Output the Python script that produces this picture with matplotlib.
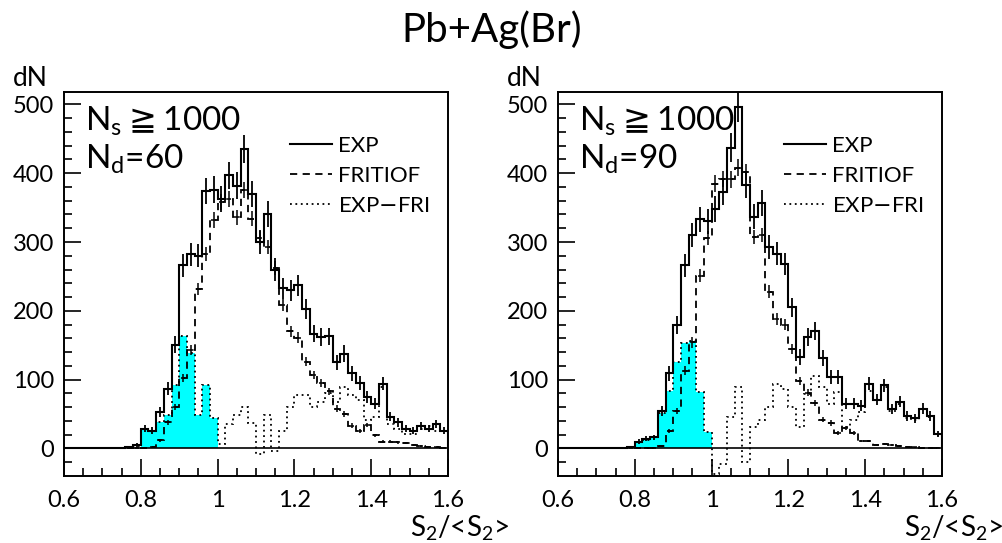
import numpy as np
import matplotlib.pyplot as plt

plt.rcParams['font.family'] = ['Lato', 'DejaVu Sans']
plt.rcParams['mathtext.fontset'] = 'dejavusans'

# bins of S2/<S2>, width 0.02 from 0.6 to 1.6
EDGES = np.round(np.linspace(0.6, 1.6, 51), 2)

EXP_60 = [0, 0, 0, 0, 0, 0, 0, 1, 2, 5,
          29, 26, 53, 87, 151, 266, 282, 280, 374, 376,
          363, 397, 382, 435, 370, 300, 341, 260, 233, 230,
          237, 203, 167, 162, 163, 125, 138, 109, 95, 75,
          65, 94, 46, 38, 29, 26, 33, 29, 36, 26]
FRI_60 = [0, 0, 0, 0, 0, 0, 0, 0, 1, 1,
          1, 2, 12, 38, 60, 102, 143, 232, 283, 332,
          358, 362, 336, 375, 334, 306, 293, 262, 208, 170,
          161, 126, 107, 95, 83, 58, 50, 33, 25, 34,
          19, 10, 10, 9, 8, 5, 4, 2, 2, 1]
DIFF_60 = [0, 0, 0, 0, 0, 0, 0, 1, 1, 4,
           29, 26, 38, 48, 92, 164, 139, 48, 92, 44,
           7, 36, 48, 60, 37, -8, 48, -3, 26, 60,
           77, 77, 60, 67, 80, 67, 89, 77, 70, 41,
           46, 89, 36, 29, 21, 21, 29, 33, 26, 26]

EXP_90 = [0, 0, 0, 0, 0, 0, 0, 0, 1, 2,
          10, 14, 16, 55, 109, 179, 266, 310, 333, 330,
          348, 373, 437, 496, 383, 337, 356, 293, 283, 268,
          205, 133, 162, 171, 131, 104, 104, 65, 65, 62,
          94, 71, 92, 57, 68, 47, 44, 58, 47, 21]
FRI_90 = [0, 0, 0, 0, 0, 0, 0, 0, 0, 0,
          0, 1, 1, 3, 25, 54, 113, 154, 251, 306,
          385, 392, 391, 408, 402, 307, 310, 228, 188, 180,
          145, 98, 81, 66, 42, 37, 23, 30, 22, 11,
          11, 5, 7, 5, 4, 2, 2, 1, 1, 1]
DIFF_90 = [0, 0, 0, 0, 0, 0, 0, 0, 1, 2,
           10, 13, 16, 52, 84, 125, 153, 156, 82, 24,
           -37, -22, 46, 89, -20, 31, 41, 60, 94, 87,
           60, 31, 79, 106, 89, 65, 82, 31, 41, 53,
           84, 70, 89, 55, 65, 45, 42, 57, 46, 20]

PANELS = [("60", EXP_60, FRI_60, DIFF_60), ("90", EXP_90, FRI_90, DIFF_90)]

fig = plt.figure(figsize=(10.03, 5.43), dpi=100)
fig.text(492 / 1003, 1 - 30 / 543, 'Pb+Ag(Br)', ha='center', va='center',
         fontsize=29, color='k')

lefts = [64 / 1003, 558 / 1003]
centers = (EDGES[:-1] + EDGES[1:]) / 2
fill = (centers > 0.8) & (centers < 1.0)

for left, (nd, exp, fri, diff) in zip(lefts, PANELS):
    ax = fig.add_axes([left, 67 / 543, 384 / 1003, 384 / 543])
    exp = np.array(exp, float)
    fri = np.array(fri, float)
    diff = np.array(diff, float)

    # cyan region under EXP-FRI between 0.8 and 1
    ax.stairs(diff[fill], EDGES[10:21], fill=True, color='#00ffff', lw=0)
    ax.axhline(0, color='k', lw=1.2)

    ax.stairs(exp, EDGES, color='k', lw=1.5, label='EXP')
    ax.stairs(fri, EDGES, color='k', lw=1.3, ls=(0, (4, 3)), label='FRITIOF')
    ax.stairs(diff, EDGES, color='k', lw=1.3, ls=(0, (1, 2)), label='EXP$-$FRI')

    ax.errorbar(centers, exp, yerr=np.sqrt(exp), fmt='none', ecolor='k', elinewidth=1.3)
    ax.errorbar(centers, fri, yerr=0.6 * np.sqrt(fri), xerr=0.006, fmt='none',
                ecolor='k', elinewidth=1.1)

    ax.set_xlim(0.6, 1.6)
    ax.set_ylim(-40, 518)
    ax.set_xticks([0.6, 0.8, 1.0, 1.2, 1.4, 1.6])
    ax.set_xticklabels(['0.6', '0.8', '1', '1.2', '1.4', '1.6'])
    ax.set_xticks(np.arange(0.6, 1.601, 0.05), minor=True)
    ax.set_yticks([0, 100, 200, 300, 400, 500])
    ax.set_yticks(np.arange(-20, 518, 20), minor=True)
    ax.tick_params(direction='in', length=12, width=1.2, labelsize=17, top=False, right=False)
    ax.tick_params(axis='y', pad=7)
    ax.tick_params(axis='x', pad=10)
    ax.tick_params(which='minor', direction='in', length=6, width=1.2)
    for s in ax.spines.values():
        s.set_linewidth(1.4)

    ax.text(-0.088, 1.036, 'dN', transform=ax.transAxes, ha='center', va='center', fontsize=19)
    ax.set_xlabel(r'S$_\mathregular{2}$/<S$_\mathregular{2}$>', fontsize=20)
    ax.xaxis.set_label_coords(1.16, -0.135)
    ax.xaxis.label.set_ha('right')
    ax.xaxis.label.set_va('center')

    ax.text(0.055, 0.925, r'N$_\mathregular{s}$$\geqq$1000', transform=ax.transAxes,
            ha='left', va='center', fontsize=24)
    ax.text(0.055, 0.825, r'N$_\mathregular{d}$=' + nd, transform=ax.transAxes,
            ha='left', va='center', fontsize=24)

    ax.legend(loc='upper left', bbox_to_anchor=(0.56, 0.915), frameon=False,
              fontsize=16, handlelength=1.9, handletextpad=0.25, labelspacing=0.45,
              borderpad=0)

fig.savefig('out.png', dpi=100)
